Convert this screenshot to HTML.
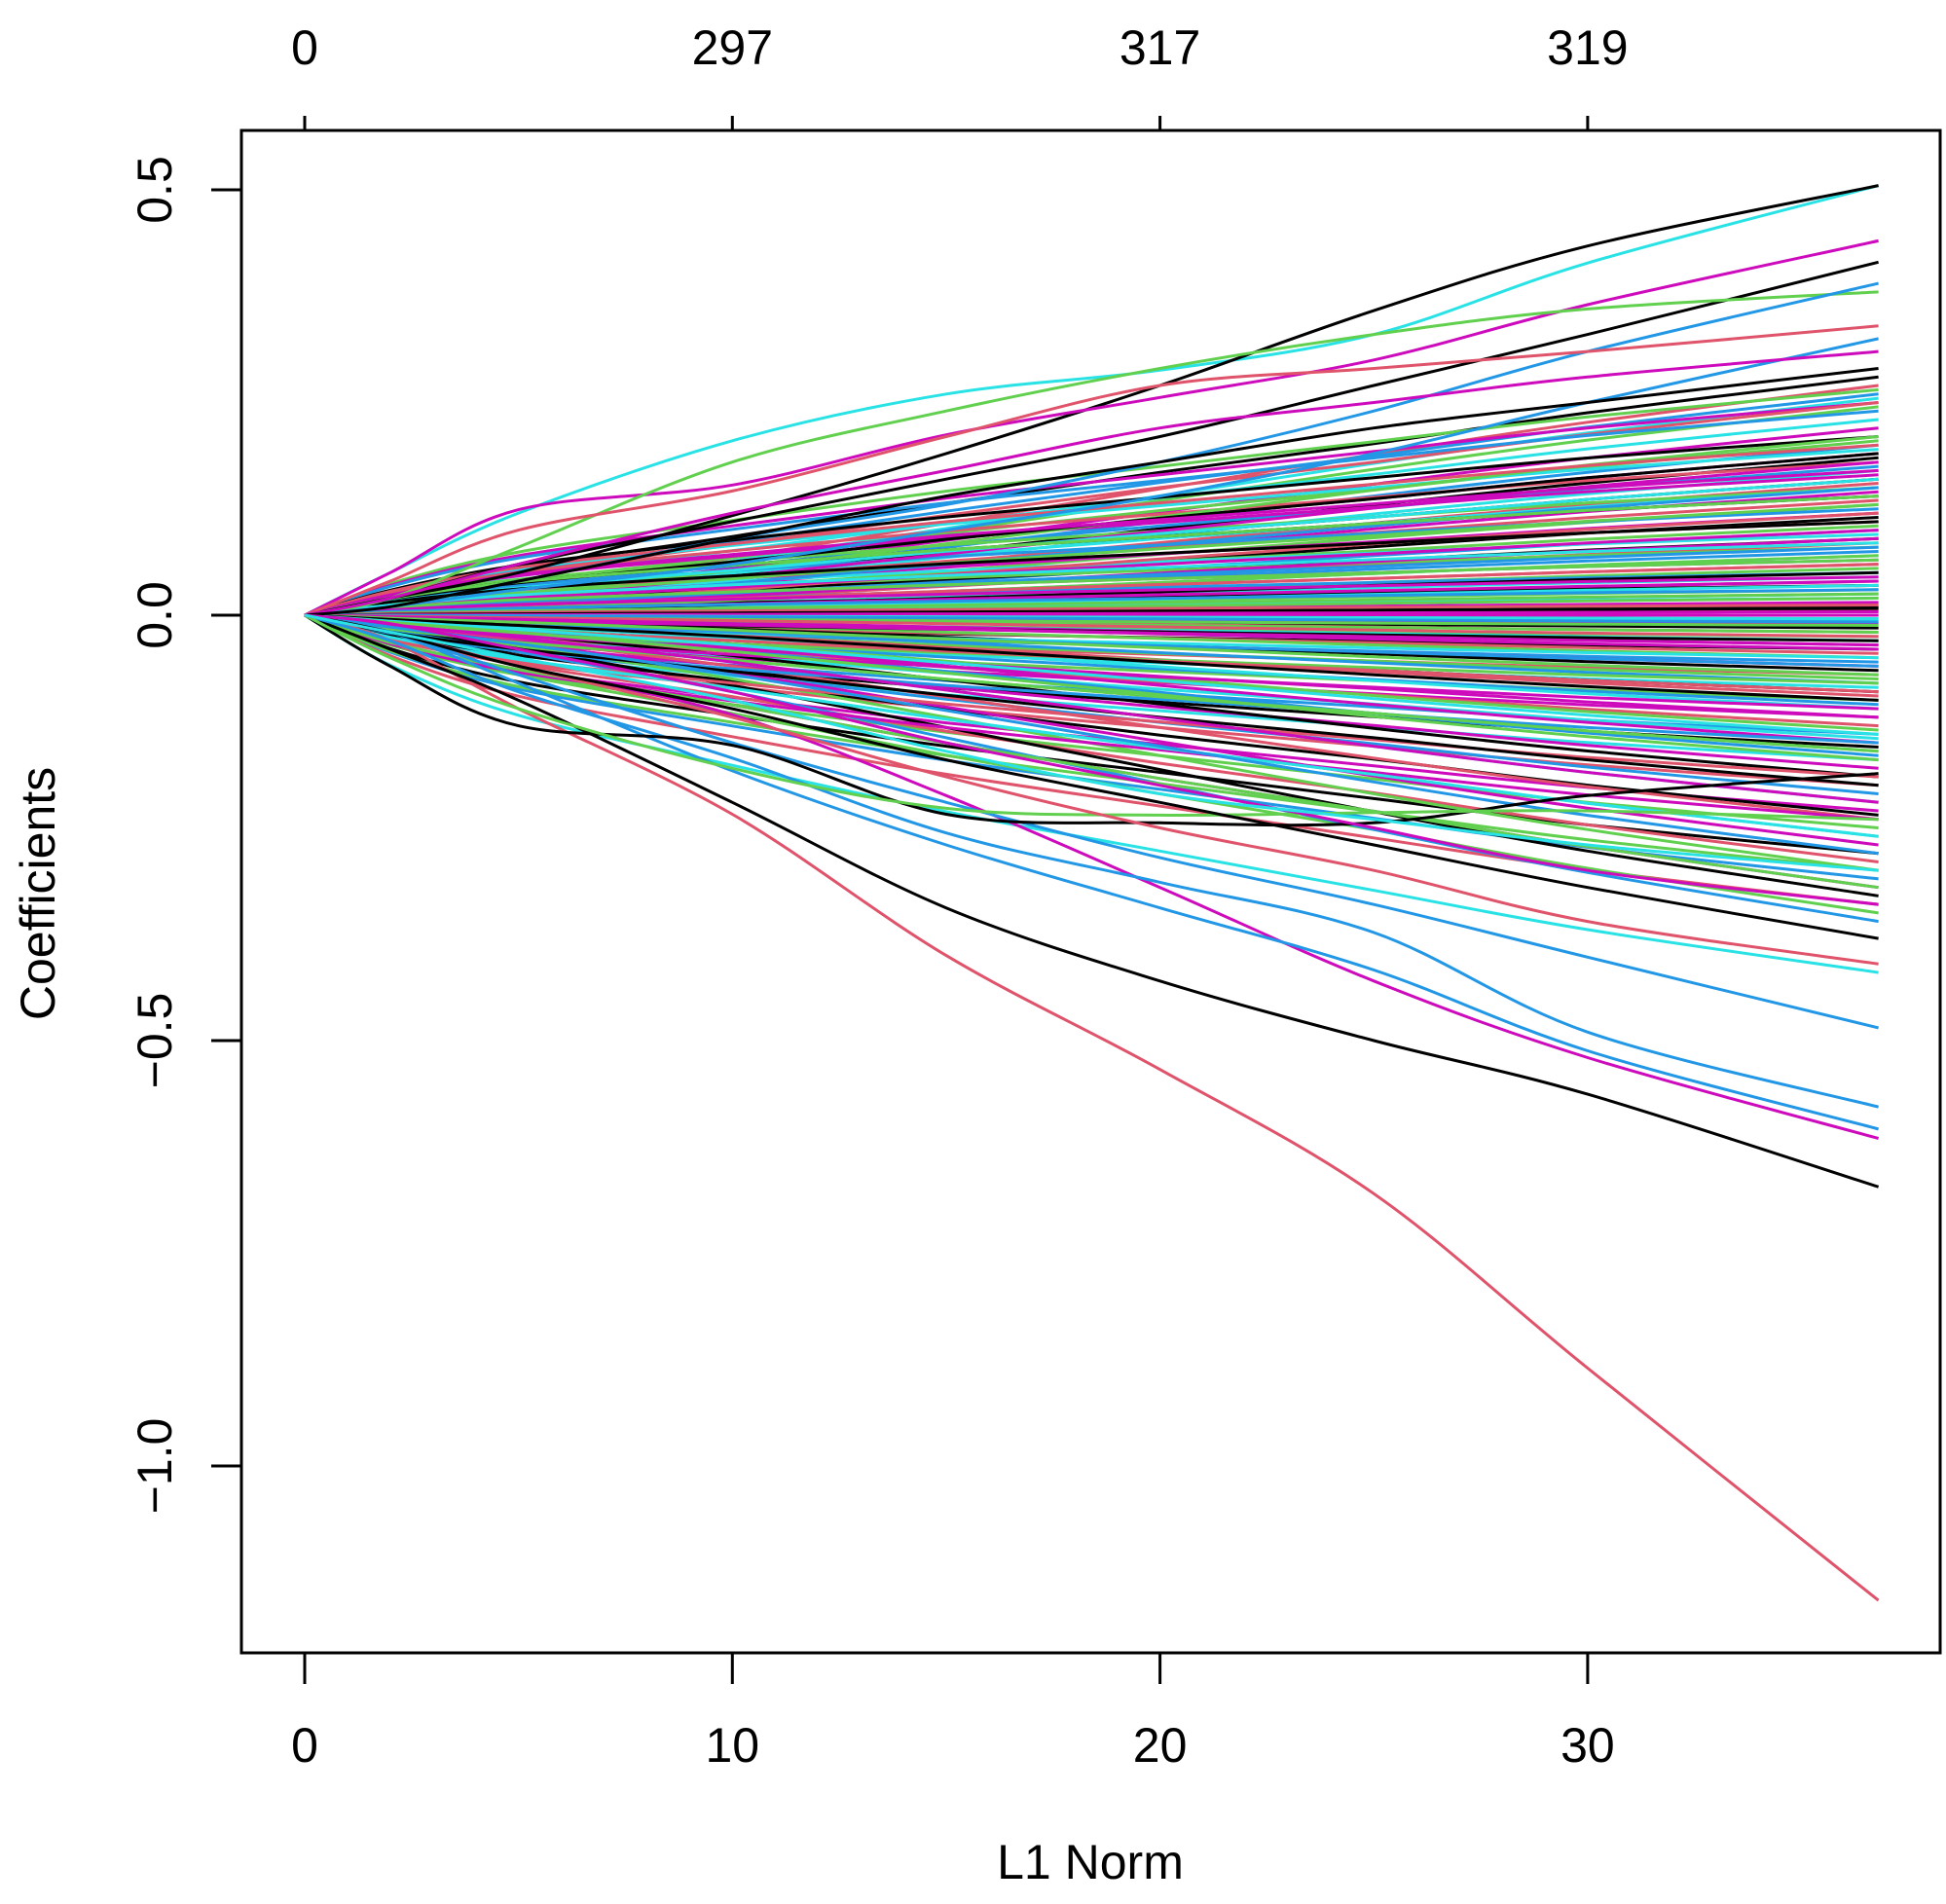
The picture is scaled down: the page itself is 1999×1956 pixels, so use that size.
<!DOCTYPE html>
<html><head><meta charset="utf-8"><style>
html,body{margin:0;padding:0;background:#fff;}
svg{display:block;}
text{font-family:"Liberation Sans",Arial,sans-serif;fill:#000;}
</style></head><body>
<svg id="chart" width="1999" height="1956" viewBox="0 0 1999 1956" xmlns="http://www.w3.org/2000/svg">
<g id="lines"></g>
<rect x="248" y="134" width="1745" height="1564" fill="none" stroke="#000" stroke-width="3"/>
<g id="axes"></g>
<text x="1120" y="1930" font-size="50" text-anchor="middle">L1 Norm</text>
<text transform="translate(56,918) rotate(-90)" font-size="50" text-anchor="middle">Coefficients</text>
</svg>
<script>
const knotsX = [0, 2, 5, 10, 15, 20, 25, 30, 36.8];
const xTicks = [0, 10, 20, 30];
const topTickLabels = ["0", "297", "317", "319"];
const yTicks = [0.5, 0.0, -0.5, -1.0];
const yTickLabels = ["0.5", "0.0", "\u22120.5", "\u22121.0"];
const palette = ["#000000", "#DF536B", "#61D04F", "#2297E6", "#28E2E5", "#CD0BBC"];

const mainColors = [4, 0, 5, 0, 2, 3, 1, 3, 5, 0, 1, 0, 5, 3, 3, 3, 0, 2, 1, 0, 5, 4];
const mainSeries = [
  [0, 0.05, 0.12, 0.205, 0.26, 0.288, 0.33, 0.414, 0.505],
  [0, 0.02, 0.05, 0.117, 0.19, 0.27, 0.358, 0.434, 0.505],
  [0, 0.05, 0.124, 0.153, 0.212, 0.256, 0.30, 0.365, 0.44],
  [0, 0.02, 0.06, 0.11, 0.16, 0.21, 0.27, 0.33, 0.415],
  [0, 0.02, 0.08, 0.18, 0.24, 0.29, 0.33, 0.36, 0.38],
  [0, 0.01, 0.04, 0.09, 0.13, 0.18, 0.24, 0.31, 0.39],
  [0, 0.04, 0.10, 0.146, 0.21, 0.27, 0.29, 0.31, 0.34],
  [0, 0.01, 0.03, 0.06, 0.10, 0.14, 0.19, 0.25, 0.325],
  [0, 0.02, 0.06, 0.12, 0.17, 0.22, 0.25, 0.28, 0.31],
  [0, 0.01, 0.04, 0.09, 0.14, 0.18, 0.22, 0.25, 0.29],
  [0, -0.03, -0.11, -0.234, -0.40, -0.534, -0.68, -0.885, -1.158],
  [0, -0.04, -0.10, -0.22, -0.344, -0.43, -0.50, -0.563, -0.672],
  [0, -0.02, -0.06, -0.117, -0.212, -0.32, -0.43, -0.52, -0.615],
  [0, -0.03, -0.09, -0.168, -0.256, -0.314, -0.373, -0.49, -0.578],
  [0, -0.02, -0.08, -0.183, -0.27, -0.344, -0.417, -0.512, -0.604],
  [0, -0.02, -0.07, -0.15, -0.22, -0.285, -0.34, -0.402, -0.485],
  [0, -0.06, -0.13, -0.153, -0.234, -0.244, -0.244, -0.212, -0.186],
  [0, -0.05, -0.11, -0.18, -0.227, -0.235, -0.232, -0.23, -0.24],
  [0, -0.02, -0.06, -0.12, -0.19, -0.25, -0.30, -0.36, -0.41],
  [0, -0.02, -0.06, -0.11, -0.17, -0.22, -0.27, -0.32, -0.38],
  [0, -0.01, -0.04, -0.09, -0.15, -0.20, -0.25, -0.30, -0.34],
  [0, -0.02, -0.05, -0.10, -0.16, -0.21, -0.24, -0.27, -0.30]
];

const shapeA = [0, 0.10, 0.20, 0.33, 0.47, 0.60, 0.72, 0.85, 1];
const shapeB = [0, 0.05, 0.12, 0.25, 0.40, 0.55, 0.70, 0.84, 1];
const shapeC = [0, 0.14, 0.28, 0.42, 0.55, 0.66, 0.77, 0.88, 1];
const bulkEnds = [0.28,0.27,0.265,0.26,0.255,0.25,0.25,0.245,0.24,0.23,0.22,0.21,0.205,0.2,0.195,0.19,0.185,0.18,0.175,0.17,0.165,0.16,0.155,0.15,0.15,0.145,0.14,0.135,0.13,0.125,0.12,0.115,0.11,0.105,0.1,0.095,0.09,0.085,0.08,0.075,0.07,0.065,0.06,0.055,0.05,0.045,0.04,0.035,0.03,0.025,0.02,0.015,0.01,0.005,0.0,
 -0.005,-0.01,-0.015,-0.02,-0.025,-0.03,-0.035,-0.04,-0.045,-0.05,-0.055,-0.06,-0.065,-0.07,-0.075,-0.08,-0.085,-0.09,-0.095,-0.1,-0.105,-0.11,-0.12,-0.13,-0.135,-0.14,-0.145,-0.15,-0.155,-0.16,-0.165,-0.17,-0.18,-0.19,-0.2,-0.21,-0.22,-0.23,-0.235,-0.24,-0.25,-0.26,-0.27,-0.28,-0.29,-0.3,-0.31,-0.32,-0.33,-0.34,-0.35,-0.36,-0.42];
const bulkEnds2 = [0.21,0.2,0.19,0.18,0.17,0.16,0.15,0.14,0.13,0.12,0.11,0.1,0.09,0.085,0.08,0.07,0.065,0.06,0.05,0.045,0.04,0.035,0.03,0.025,0.02,0.012,0.008,0.004,0.0,-0.004,-0.008,-0.012,-0.02,-0.025,-0.03,-0.035,-0.04,-0.05,-0.06,-0.07,-0.08,-0.09,-0.1,-0.11,-0.12,-0.14,-0.15,-0.16,-0.17,-0.19,-0.2,-0.22,-0.24,-0.26,-0.28,-0.3,-0.32];

const X0 = 313, XS = 43.93, Y0 = 632, YS = 874;
function xs(v){ return X0 + v * XS; }
function ys(v){ return Y0 - v * YS; }
const NS = "http://www.w3.org/2000/svg";

function pathD(vals){
  const p = knotsX.map((k,i)=>[xs(k), ys(vals[i])]);
  let d = "M" + p[0][0].toFixed(1) + "," + p[0][1].toFixed(1);
  for (let i=0;i<p.length-1;i++){
    const a = p[Math.max(0,i-1)], b = p[i], c = p[i+1], e = p[Math.min(p.length-1,i+2)];
    const c1x = b[0] + (c[0]-a[0])/6, c1y = b[1] + (c[1]-a[1])/6;
    const c2x = c[0] - (e[0]-b[0])/6, c2y = c[1] - (e[1]-b[1])/6;
    d += " C" + c1x.toFixed(1)+","+c1y.toFixed(1)+" "+c2x.toFixed(1)+","+c2y.toFixed(1)+" "+c[0].toFixed(1)+","+c[1].toFixed(1);
  }
  return d;
}

const gLines = document.getElementById("lines");
function addLine(vals, color){
  const el = document.createElementNS(NS, "path");
  el.setAttribute("d", pathD(vals));
  el.setAttribute("fill", "none");
  el.setAttribute("stroke", color);
  el.setAttribute("stroke-width", "3");
  
  
  gLines.appendChild(el);
}
const shapes = [shapeA, shapeB, shapeC];
bulkEnds.forEach((e,i)=>{
  const sh = shapes[i % 3];
  addLine(sh.map(f=>f*e), palette[(i + Math.floor(i/6)) % 6]);
});
bulkEnds2.forEach((e,i)=>{
  const sh = shapes[(i+1) % 3];
  addLine(sh.map(f=>f*e), palette[(i*5 + Math.floor(i/4) + 2) % 6]);
});
mainSeries.forEach((s,i)=> addLine(s, palette[mainColors[i]]));

const gAx = document.getElementById("axes");
function mk(tag, attrs, txt){
  const el = document.createElementNS(NS, tag);
  for (const k in attrs) el.setAttribute(k, attrs[k]);
  if (txt !== undefined) el.textContent = txt;
  gAx.appendChild(el);
  return el;
}
xTicks.forEach((t,i)=>{
  const x = xs(t);
  const b = mk("line", {x1:x, x2:x, y1:1698, y2:1730, stroke:"#000", "stroke-width":3});
  
  
  const bl = mk("text", {x:x, y:1810, "font-size":50, "text-anchor":"middle"}, String(t));
  
  
  const tp = mk("line", {x1:x, x2:x, y1:134, y2:119, stroke:"#000", "stroke-width":3});
  
  
  const tl = mk("text", {x:x, y:66, "font-size":50, "text-anchor":"middle"}, topTickLabels[i]);
  
  
});
yTicks.forEach((t,i)=>{
  const y = ys(t);
  const l = mk("line", {x1:217, x2:248, y1:y, y2:y, stroke:"#000", "stroke-width":3});
  
  
  const tx = mk("text", {transform:"translate(176,"+y+") rotate(-90)", "font-size":50, "text-anchor":"middle"}, yTickLabels[i]);
  
  
});
</script>
</body></html>
